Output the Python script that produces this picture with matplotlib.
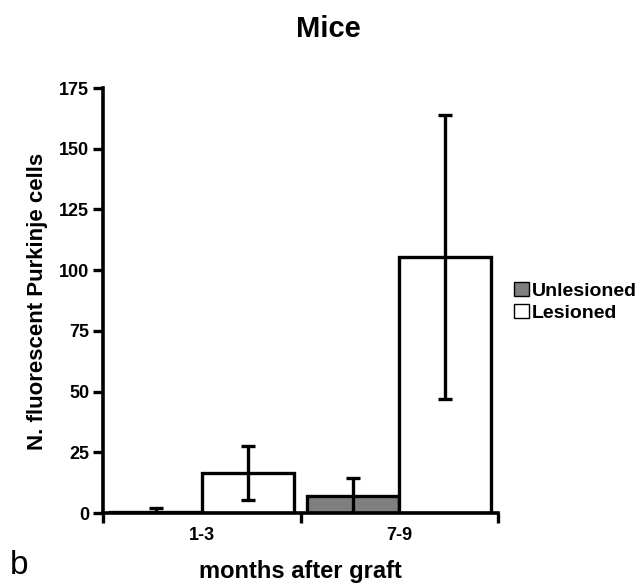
import numpy as np
import matplotlib
matplotlib.use('Agg')
import matplotlib.pyplot as plt
from matplotlib.patches import Patch

plt.rcParams['font.family'] = ['Liberation Sans', 'DejaVu Sans']
plt.rcParams['font.weight'] = 'bold'

# data
groups = ['1-3', '7-9']
unlesioned = [0.5, 7]
unlesioned_err = [1.5, 7.5]
lesioned = [16.5, 105.5]
lesioned_err = [11, 58.5]

W, H = 641, 584
fig = plt.figure(figsize=(W / 100, H / 100), dpi=100)
ax = fig.add_axes([103 / W, 1 - 513 / H, 395 / W, 425 / H])

x = np.arange(len(groups))
w = 0.465
err_kw = dict(ecolor='black', elinewidth=2.4, capsize=5, capthick=2.4)
ax.bar(x - w / 2, unlesioned, w, yerr=unlesioned_err, color='#7f7f7f',
       edgecolor='black', linewidth=2.4, error_kw=err_kw, zorder=2)
ax.bar(x + w / 2, lesioned, w, yerr=lesioned_err, color='white',
       edgecolor='black', linewidth=2.4, error_kw=err_kw, zorder=2)

ax.set_xlim(-0.5, 1.5)
ax.set_ylim(0, 175)
ax.set_yticks(np.arange(0, 176, 25))
ax.set_xticks(x)
ax.set_xticklabels(groups, fontsize=13, fontweight='bold')
ax.set_xticks([-0.5, 0.5, 1.5], minor=True)
ax.tick_params(axis='x', which='major', length=0, pad=10)
ax.tick_params(axis='x', which='minor', length=7, width=2.4, direction='out')
ax.tick_params(axis='y', length=7, width=2.4, direction='out', labelsize=13, pad=3)
for lbl in ax.get_yticklabels():
    lbl.set_fontweight('bold')

for side in ['top', 'right']:
    ax.spines[side].set_visible(False)
for side in ['left', 'bottom']:
    ax.spines[side].set_linewidth(2.6)

fig.text(38 / W, 1 - 301 / H, 'N. fluorescent Purkinje cells', rotation=90,
         ha='center', va='center', fontsize=16, fontweight='bold')
fig.text(300 / W, 6 / H, 'months after graft', ha='center', va='baseline',
         fontsize=17, fontweight='bold')
fig.text(328 / W, 1 - 37 / H, 'Mice', ha='center', va='baseline',
         fontsize=21, fontweight='bold')

handles = [Patch(facecolor='#7f7f7f', edgecolor='black', linewidth=1),
           Patch(facecolor='white', edgecolor='black', linewidth=1)]
fig.legend(handles, ['Unlesioned', 'Lesioned'], loc='center left',
           bbox_to_anchor=(514 / W, 1 - 302 / H), frameon=False,
           handlelength=0.75, handleheight=0.75, handletextpad=0.15,
           labelspacing=0.2, borderpad=0, borderaxespad=0,
           prop={'weight': 'bold', 'size': 14})

fig.text(10 / W, 10 / H, 'b', fontsize=24, fontweight='normal', va='baseline')

fig.savefig('out.png', dpi=100)
